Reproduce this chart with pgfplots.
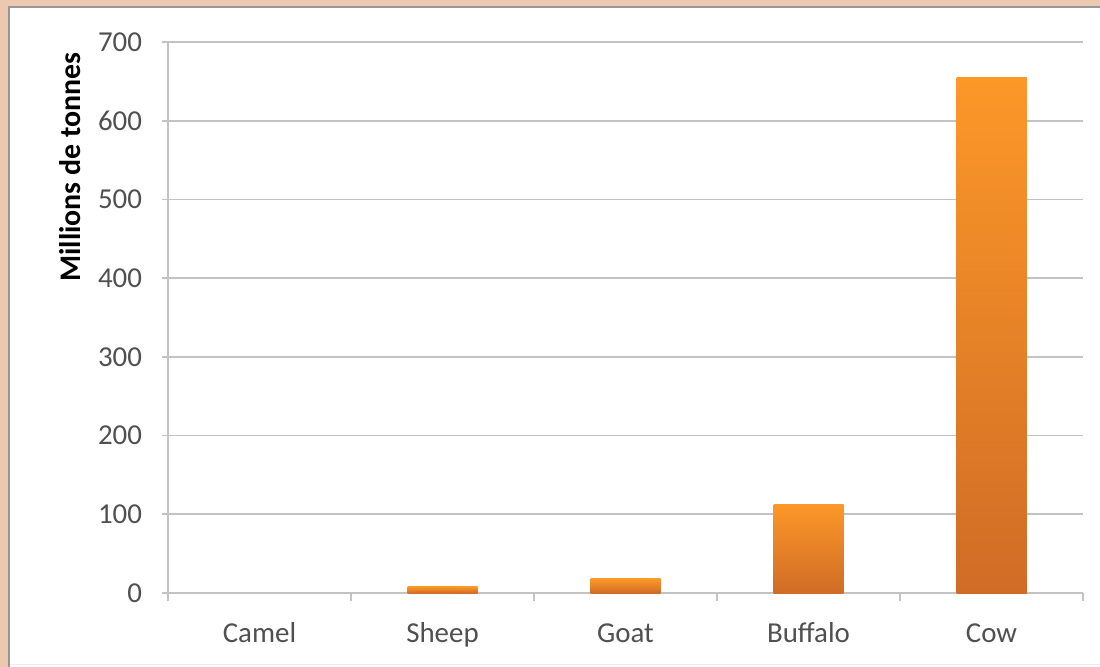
\documentclass[border=0pt]{standalone}
\usepackage{pgfplots}
\pgfplotsset{compat=1.18}
\usepackage{fontspec}
\setmainfont{Carlito}
\definecolor{framecol}{RGB}{236,200,176}
\definecolor{shadow}{RGB}{150,150,150}
\definecolor{gridcol}{RGB}{195,195,195}
\definecolor{labelgray}{RGB}{80,80,80}
\definecolor{bartop}{RGB}{252,152,40}
\definecolor{barbot}{RGB}{208,108,38}
\begin{document}
\begin{tikzpicture}
\path[use as bounding box] (0bp,0bp) rectangle (550bp,-333.5bp);
\fill[framecol] (0bp,0bp) rectangle (550bp,-333.5bp);
\fill[white] (4bp,-3bp) rectangle (550bp,-333.5bp);
\draw[shadow, line width=1bp] (4.5bp,-333.5bp) -- (4.5bp,-3.5bp) -- (550bp,-3.5bp);
\draw[gray!15, line width=0.6bp] (5bp,-332.3bp) -- (550bp,-332.3bp);
\begin{axis}[
  at={(84bp,-296.5bp)}, anchor=south west,
  scale only axis, width=457.5bp, height=275.5bp,
  xmin=-0.5, xmax=4.5, ymin=0, ymax=700,
  axis lines*=left,
  axis line style={gridcol, line width=0.8bp},
  xtick={0,1,2,3,4},
  xticklabels={Camel,Sheep,Goat,Buffalo,Cow},
  minor xtick={-0.5,0.5,1.5,2.5,3.5,4.5},
  ytick={0,100,200,300,400,500,600,700},
  ymajorgrids,
  grid style={gridcol, line width=0.8bp},
  tick align=outside,
  major x tick style={draw=none},
  minor x tick style={gridcol, line width=0.8bp},
  major y tick style={gridcol, line width=0.8bp},
  minor tick length=4bp,
  major tick length=3bp,
  /pgf/number format/assume math mode=true,
  tick label style={font=\fontsize{14.5}{16}\selectfont, text=labelgray},
  yticklabel style={xshift=-6.5bp},
  xticklabel style={yshift=-9bp, text height=9bp, text depth=2.5bp},
  ylabel={Millions de tonnes},
  ylabel style={font=\bfseries\fontsize{15}{17}\selectfont, text=black,
    at={(axis description cs:-0.107,0.773)}, anchor=center},
]
\addplot[ybar, bar width=35bp, draw=none, top color=bartop, bottom color=barbot]
  coordinates {(0,0)};
\addplot[ybar, bar width=35bp, draw=none, top color=bartop, bottom color=barbot]
  coordinates {(1,8)};
\addplot[ybar, bar width=35bp, draw=none, top color=bartop, bottom color=barbot]
  coordinates {(2,18)};
\addplot[ybar, bar width=35bp, draw=none, top color=bartop, bottom color=barbot]
  coordinates {(3,113)};
\addplot[ybar, bar width=35bp, draw=none, top color=bartop, bottom color=barbot]
  coordinates {(4,655)};
\end{axis}
\end{tikzpicture}
\end{document}
